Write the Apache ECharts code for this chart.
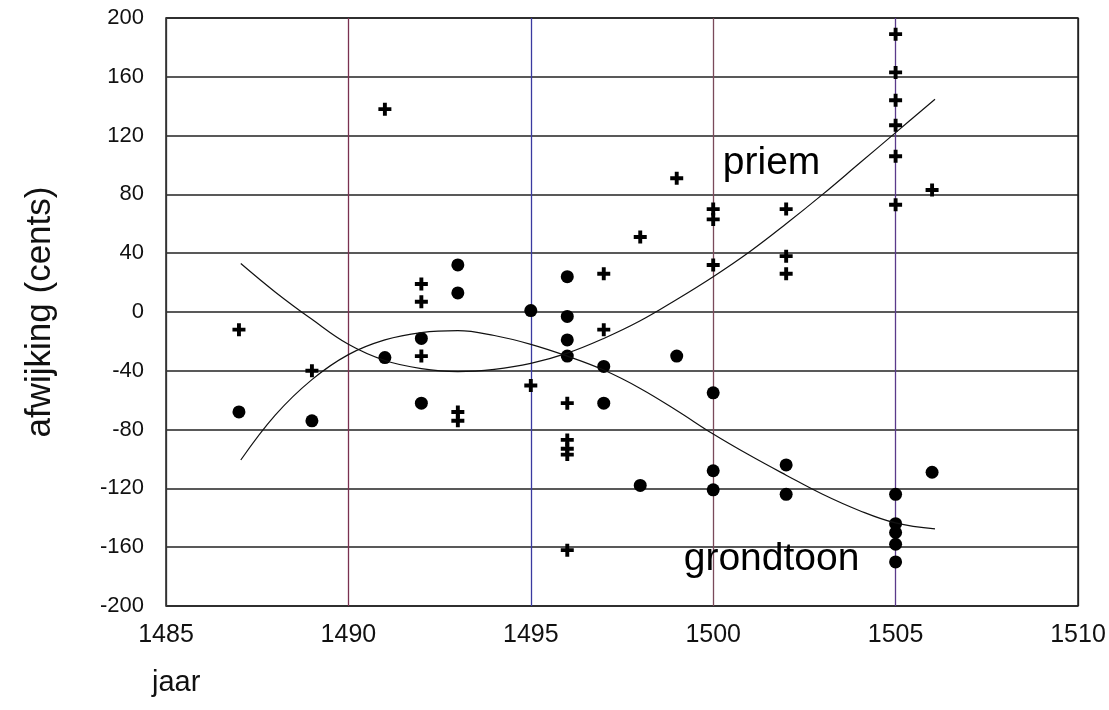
<!DOCTYPE html>
<html>
<head>
<meta charset="utf-8">
<script src="https://cdn.jsdelivr.net/npm/echarts@6/dist/echarts.min.js"></script>
<style>
  html, body { margin: 0; padding: 0; background: #fff; }
  #main { width: 1109px; height: 710px; }
</style>
</head>
<body>
<div id="main"></div>
<script>
// priem measurements (+)
var priemPoints = [
    [1487, -12], [1489, -40], [1491, 138],
    [1492, 19], [1492, 7], [1492, -30],
    [1493, -68], [1493, -74], [1495, -50],
    [1496, -62], [1496, -87], [1496, -93], [1496, -97], [1496, -162],
    [1497, 26], [1497, -12], [1498, 51], [1499, 91],
    [1500, 70], [1500, 63], [1500, 32],
    [1502, 70], [1502, 38], [1502, 26],
    [1505, 189], [1505, 163], [1505, 144], [1505, 127], [1505, 106], [1505, 73],
    [1506, 83]
];

// grondtoon measurements (dots)
var grondPoints = [
    [1487, -68], [1489, -74], [1491, -31],
    [1492, -18], [1492, -62], [1493, 32], [1493, 13],
    [1495, 1], [1496, 24], [1496, -3], [1496, -19], [1496, -30],
    [1497, -37], [1497, -62], [1498, -118], [1499, -30],
    [1500, -55], [1500, -108], [1500, -121],
    [1502, -104], [1502, -124],
    [1505, -124], [1505, -144], [1505, -150], [1505, -158], [1505, -170],
    [1506, -109]
];

// trend curves
var priemCurve = [
    [1487.05, 33], [1488, 13.5], [1489, -5], [1490, -22], [1491, -33], [1492, -38.5],
    [1493, -40.5], [1494, -39], [1495, -35], [1496, -28], [1497, -18], [1498, -6],
    [1499, 8.5], [1500, 24], [1501, 41], [1502, 60], [1503, 80], [1504, 101],
    [1505, 122], [1506.08, 144.7]
];
var grondCurve = [
    [1487.05, -100.7], [1488, -70], [1489, -46], [1490, -29], [1491, -19], [1492, -14],
    [1493, -12.7], [1494, -16], [1495, -22], [1496, -30], [1497, -39.5], [1498, -52],
    [1499, -67], [1500, -83], [1501, -97.5], [1502, -111], [1503, -124], [1504, -135],
    [1505, -143.5], [1506.08, -147.6]
];

// curve labels
var curveLabels = [
    { name: 'priem', value: [1501.6, 101] },
    { name: 'grondtoon', value: [1501.6, -168] }
];

var xTicks = { min: 1485, max: 1510, interval: 5 };
var yTicks = { min: -200, max: 200, interval: 40 };

var plusPath = 'path://M3.5,0H6.5V3.5H10V6.5H6.5V10H3.5V6.5H0V3.5H3.5Z';

var myChart = echarts.init(document.getElementById('main'));

myChart.setOption({
    backgroundColor: '#fff',
    animation: false,
    grid: {
        left: 166, right: 31, top: 18, bottom: 104,
        show: true, borderColor: '#222', borderWidth: 1.5
    },
    xAxis: {
        type: 'value',
        min: xTicks.min, max: xTicks.max, interval: xTicks.interval,
        axisLine: { show: false },
        axisTick: { show: false },
        axisLabel: {
            margin: 17, color: '#111',
            fontFamily: 'Liberation Sans', fontSize: 25,
            formatter: function (v) { return String(v); }
        },
        splitLine: {
            show: true,
            lineStyle: { width: 1.3, color: ['#333', '#7a3050', '#3a3aa0', '#7a4a5a', '#5a3a8a', '#222'] }
        }
    },
    yAxis: {
        type: 'value',
        min: yTicks.min, max: yTicks.max, interval: yTicks.interval,
        name: 'afwijking (cents)',
        nameLocation: 'middle',
        nameRotate: 90,
        nameGap: 108,
        nameTextStyle: { color: '#111', fontFamily: 'Liberation Sans', fontSize: 35 },
        axisLine: { show: false },
        axisTick: { show: false },
        axisLabel: {
            margin: 22, color: '#111',
            fontFamily: 'Liberation Sans', fontSize: 22
        },
        splitLine: { show: true, lineStyle: { color: '#222', width: 1.5 } }
    },
    graphic: [{
        type: 'text',
        left: 152, top: 668,
        style: { text: 'jaar', fill: '#111', font: '29px "Liberation Sans"' }
    }],
    series: [
        {
            name: 'priem fit',
            type: 'line',
            data: priemCurve,
            smooth: 0.4,
            showSymbol: false,
            lineStyle: { color: '#111', width: 1.2 }
        },
        {
            name: 'grondtoon fit',
            type: 'line',
            data: grondCurve,
            smooth: 0.4,
            showSymbol: false,
            lineStyle: { color: '#111', width: 1.2 }
        },
        {
            name: 'priem',
            type: 'scatter',
            data: priemPoints,
            symbol: plusPath,
            symbolSize: 13,
            itemStyle: { color: '#000', opacity: 1 }
        },
        {
            name: 'grondtoon',
            type: 'scatter',
            data: grondPoints,
            symbol: 'circle',
            symbolSize: 13,
            itemStyle: { color: '#000', opacity: 1 }
        },
        {
            name: 'labels',
            type: 'scatter',
            data: curveLabels,
            symbolSize: 0,
            itemStyle: { opacity: 1 },
            label: {
                show: true, position: 'inside', formatter: '{b}',
                color: '#000', fontFamily: 'Liberation Sans', fontSize: 39
            }
        }
    ]
});
</script>
</body>
</html>
